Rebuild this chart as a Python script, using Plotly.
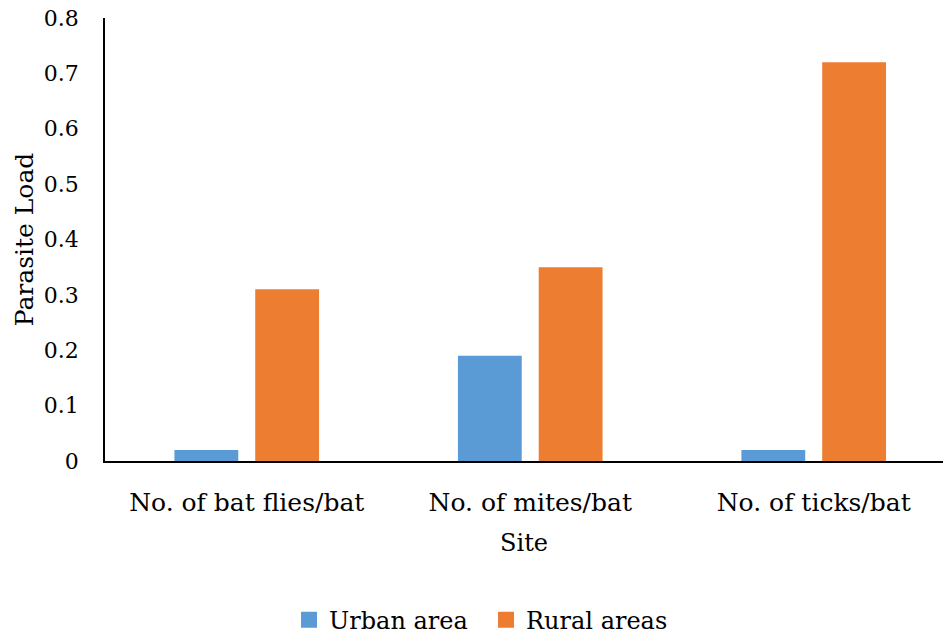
import plotly.graph_objects as go

# Parasite load per bat by site type
categories = ["No. of bat flies/bat", "No. of mites/bat", "No. of ticks/bat"]
urban_values = [0.02, 0.19, 0.02]
rural_values = [0.31, 0.35, 0.72]
y_ticks = [0, 0.1, 0.2, 0.3, 0.4, 0.5, 0.6, 0.7, 0.8]
y_tick_labels = ["0", "0.1", "0.2", "0.3", "0.4", "0.5", "0.6", "0.7", "0.8"]

BLUE = "#5B9BD5"
ORANGE = "#ED7D31"
FONT = "DejaVu Serif"

fig = go.Figure()
fig.add_trace(go.Bar(x=categories, y=urban_values, name="Urban area",
                     marker=dict(color=BLUE, line=dict(width=0)), showlegend=False))
fig.add_trace(go.Bar(x=categories, y=rural_values, name="Rural areas",
                     marker=dict(color=ORANGE, line=dict(width=0)), showlegend=False))

# Legend entries with larger square swatches
for name, color in [("Urban area", BLUE), ("Rural areas", ORANGE)]:
    fig.add_trace(go.Scatter(x=[None], y=[None], mode="markers", name=name,
                             marker=dict(symbol="square", size=16, color=color)))

fig.update_layout(
    width=943, height=634,
    margin=dict(l=105, r=0, t=18, b=173, autoexpand=False),
    paper_bgcolor="white", plot_bgcolor="white",
    font=dict(family=FONT, size=24, color="black"),
    barmode="group", bargap=0.43, bargroupgap=0.21,
    legend=dict(orientation="h", x=0.2196, xanchor="left", y=-0.359, yanchor="middle",
                font=dict(family=FONT, size=24), itemsizing="trace", itemwidth=30,
                entrywidth=152, entrywidthmode="pixels", tracegroupgap=0),
)
fig.update_xaxes(
    range=[-0.5, 2.456], showline=True, linecolor="black", linewidth=1.5,
    showgrid=False, ticks="", ticklabelstandoff=18,
    tickfont=dict(family=FONT, size=25),
    title=dict(text="Site", font=dict(family=FONT, size=24), standoff=18),
)
fig.update_yaxes(
    range=[0, 0.8], tickvals=y_ticks, ticktext=y_tick_labels,
    showline=True, linecolor="black", linewidth=1.5, showgrid=False,
    zeroline=False, ticks="", ticklabelstandoff=20,
    tickfont=dict(family=FONT, size=22),
    title=dict(text="Parasite Load", font=dict(family=FONT, size=25), standoff=3),
)

fig.write_html("out.html")
